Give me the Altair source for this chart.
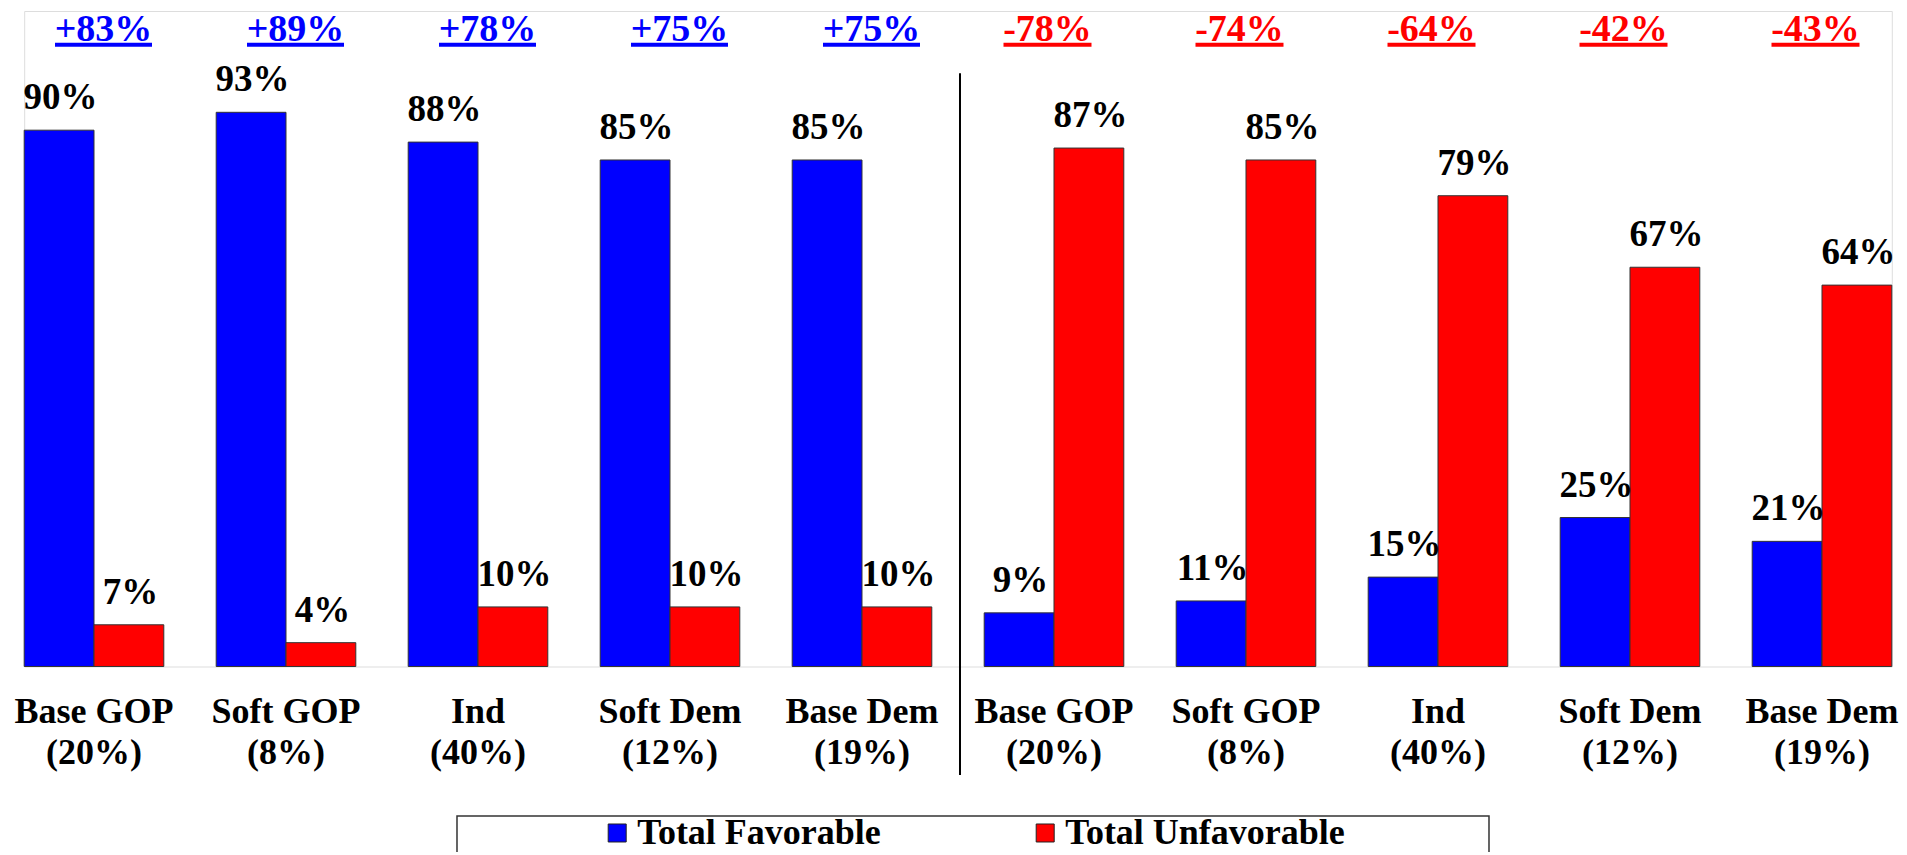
import altair as alt
import pandas as pd

# ---- data ----
segments = ["Base GOP", "Soft GOP", "Ind", "Soft Dem", "Base Dem",
            "Base GOP", "Soft GOP", "Ind", "Soft Dem", "Base Dem"]
shares = ["(20%)", "(8%)", "(40%)", "(12%)", "(19%)",
          "(20%)", "(8%)", "(40%)", "(12%)", "(19%)"]
favorable = [90, 93, 88, 85, 85, 9, 11, 15, 25, 21]
unfavorable = [7, 4, 10, 10, 10, 87, 85, 79, 67, 64]
net = [83, 89, 78, 75, 75, -78, -74, -64, -42, -43]
series = ["Total Favorable", "Total Unfavorable"]
series_colors = ["#0000FF", "#FF0000"]

FONT = "Liberation Serif"

slots = [f"{i}|{s}|{p}" for i, (s, p) in enumerate(zip(segments, shares))]

rows = []
for slot, f, u in zip(slots, favorable, unfavorable):
    rows.append({"slot": slot, "series": series[0], "value": f, "label": f"{f}%"})
    rows.append({"slot": slot, "series": series[1], "value": u, "label": f"{u}%"})
bars_df = pd.DataFrame(rows)

net_df = pd.DataFrame({
    "slot": slots,
    "net": net,
    "net_label": [("+" if n > 0 else "") + f"{n}%" for n in net],
})

W = 1867.6
H = 655.5

x_scale = alt.Scale(domain=slots, paddingInner=0.2729, paddingOuter=0)
x_axis = alt.Axis(
    title=None, orient="bottom", domain=False, ticks=False, tickSize=0,
    labelAngle=0, labelPadding=56, labelBaseline="alphabetic",
    labelFont=FONT, labelFontWeight="bold", labelFontSize=36,
    labelLineHeight=41.3, labelColor="black", labelLimit=400,
    labelOverlap=False,
    labelExpr="slice(split(datum.label, '|'), 1)",
)
x_enc = alt.X("slot:N", scale=x_scale, axis=x_axis, sort=slots)
y_scale = alt.Scale(domain=[0, 110], nice=False, zero=True)
off_scale = alt.Scale(domain=series, paddingInner=0, paddingOuter=0)

bars = alt.Chart(bars_df).mark_bar(stroke="#333333", strokeWidth=1).encode(
    x=x_enc,
    xOffset=alt.XOffset("series:N", scale=off_scale),
    y=alt.Y("value:Q", scale=y_scale, axis=None),
    color=alt.Color(
        "series:N",
        scale=alt.Scale(domain=series, range=series_colors),
        legend=alt.Legend(
            title=None, orient="none", legendX=575, legendY=804,
            direction="horizontal", symbolType="square", symbolSize=324,
            symbolStrokeColor="#222222", symbolStrokeWidth=1, symbolOpacity=1,
            labelFont=FONT, labelFontWeight="bold", labelFontSize=36,
            labelColor="black", labelOffset=2, columnPadding=146, padding=0,
            labelLimit=500,
        ),
    ),
)

value_text = alt.Chart(bars_df).mark_text(
    font=FONT, fontWeight="bold", fontSize=37, baseline="alphabetic",
    align="center", dy=-21, dx=1.5, color="black",
).encode(
    x=alt.X("slot:N", scale=x_scale, sort=slots),
    xOffset=alt.XOffset("series:N", scale=off_scale),
    y=alt.Y("value:Q", scale=y_scale),
    text="label:N",
)

pos = alt.datum.net > 0
neg = alt.datum.net < 0

net_pos_text = alt.Chart(net_df).transform_filter(pos).mark_text(
    font=FONT, fontWeight="bold", fontSize=38, baseline="alphabetic",
    align="center", dx=9.5, color="#0000FF",
).encode(x=alt.X("slot:N", scale=x_scale, sort=slots), y=alt.value(29.7), text="net_label:N")

net_neg_text = alt.Chart(net_df).transform_filter(neg).mark_text(
    font=FONT, fontWeight="bold", fontSize=38, baseline="alphabetic",
    align="center", dx=-6.5, color="#FF0000",
).encode(x=alt.X("slot:N", scale=x_scale, sort=slots), y=alt.value(29.7), text="net_label:N")

net_pos_line = alt.Chart(net_df).transform_filter(pos).mark_tick(
    orient="horizontal", size=97, thickness=4, xOffset=9.5, color="#0000FF", opacity=1,
).encode(x=alt.X("slot:N", scale=x_scale, sort=slots), y=alt.value(33.7))

net_neg_line = alt.Chart(net_df).transform_filter(neg).mark_tick(
    orient="horizontal", size=88, thickness=4, xOffset=-6.5, color="#FF0000", opacity=1,
).encode(x=alt.X("slot:N", scale=x_scale, sort=slots), y=alt.value(33.7))

one = alt.Data(values=[{"k": 1}])
divider = alt.Chart(one).mark_rule(color="black", strokeWidth=2).encode(
    x=alt.value(935.8), y=alt.value(62.3), y2=alt.value(764)
)
legend_box = alt.Chart(one).mark_rect(
    fillOpacity=0, stroke="#333333", strokeWidth=1.5
).encode(
    x=alt.value(432.8), x2=alt.value(1464.8), y=alt.value(805), y2=alt.value(900)
)

chart = alt.layer(
    divider, legend_box, bars, value_text,
    net_pos_line, net_neg_line, net_pos_text, net_neg_text,
).properties(
    width=W, height=H,
    autosize=alt.AutoSizeParams(type="none"),
    padding={"left": 16.2, "top": 3, "right": 7, "bottom": 185},
).configure_view(stroke=None).configure(background="white")

chart.save("out.html", embed_options={"renderer": "svg", "actions": False})
